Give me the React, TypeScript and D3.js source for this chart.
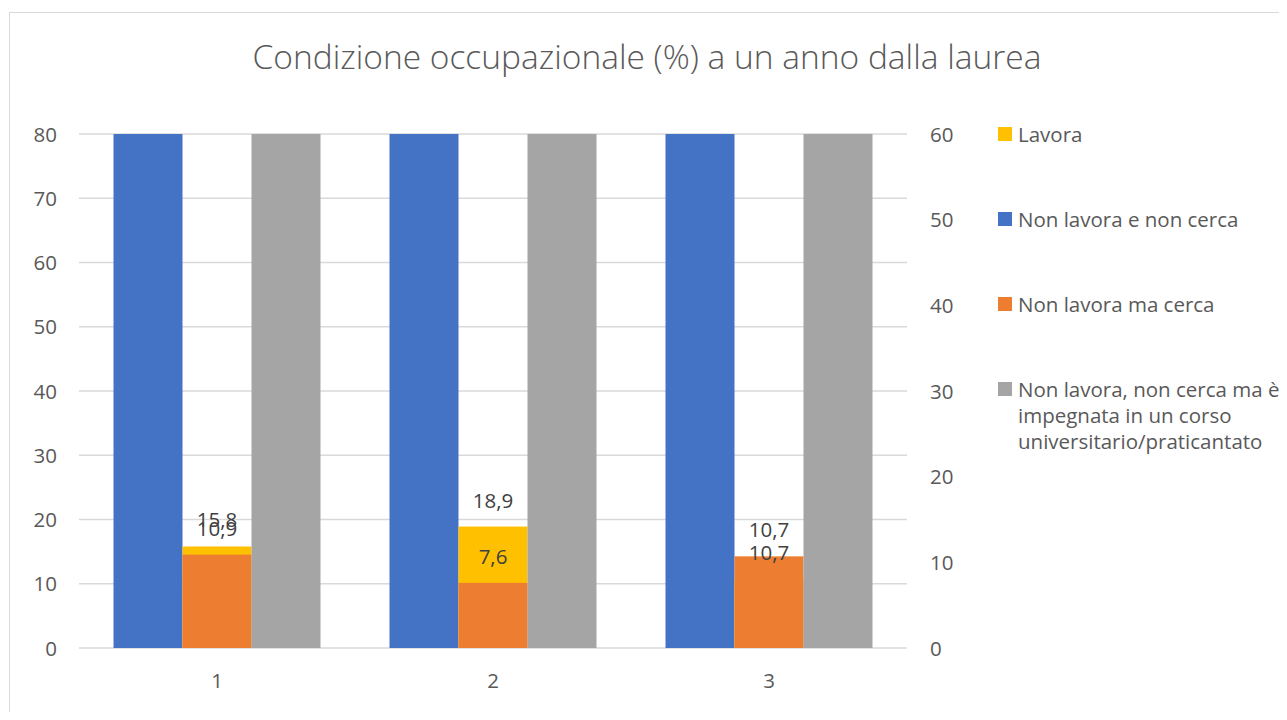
import React from "react";
import * as d3 from "d3";

const categories = ["1", "2", "3"];
const lavora = [15.8, 18.9, 10.7]; // primary axis
const nonLavoraCerca = [10.9, 7.6, 10.7]; // secondary axis
const nonLavoraNonCerca = [85, 85, 85]; // beyond primary axis max (clipped)
const impegnata = [85, 85, 85]; // beyond primary axis max (clipped)
const leftTicks = [0, 10, 20, 30, 40, 50, 60, 70, 80];
const rightTicks = [0, 10, 20, 30, 40, 50, 60];

const legendItems = [
  { lines: ["Lavora"], color: "#FFC000" },
  { lines: ["Non lavora e non cerca"], color: "#4472C4" },
  { lines: ["Non lavora ma cerca"], color: "#ED7D31" },
  { lines: ["Non lavora, non cerca ma è", "impegnata in un corso", "universitario/praticantato"], color: "#A5A5A5" },
];

const W = 1287;
const H = 720;
const plot = { left: 79, right: 907, top: 134, bottom: 648 };
const FONT = "'Open Sans', 'Segoe UI', sans-serif";
const TXT = "#595959";
const LBL = "#404040";
const FS = 20.5;

const fmt = (v: number) => v.toFixed(1).replace(".", ",");

export default function App() {
  const x = d3.scaleBand<string>().domain(categories).range([plot.left, plot.right]).paddingInner(0).paddingOuter(0);
  const inner = d3
    .scaleBand<number>()
    .domain([0, 1, 2])
    .range([0, x.bandwidth()])
    .paddingOuter(0.5)
    .paddingInner(0);
  const yL = d3.scaleLinear().domain([0, 80]).range([plot.bottom, plot.top]).clamp(true);
  const yR = d3.scaleLinear().domain([0, 60]).range([plot.bottom, plot.top]).clamp(true);
  const bw = inner.bandwidth();

  return (
    <svg width={W} height={H - 16} style={{ display: "block" }} fontFamily={FONT}>
      <rect x={1.5} y={4.5} width={W + 10} height={H + 10} fill="#fff" stroke="#D9D9D9" strokeWidth={1} />
      <text x={639} y={61} textAnchor="middle" fontSize={33.5} fill={TXT} fontWeight={300}>
        Condizione occupazionale (%) a un anno dalla laurea
      </text>
      <g transform="translate(-8,-8)">
        {leftTicks.map((t) => (
          <line key={"g" + t} x1={plot.left} x2={plot.right} y1={yL(t)} y2={yL(t)} stroke="#D9D9D9" strokeWidth={1.3} />
        ))}
        {leftTicks.map((t) => (
          <text key={"l" + t} x={57} y={yL(t) + 7.5} textAnchor="end" fontSize={FS} fill={TXT}>
            {t}
          </text>
        ))}
        {rightTicks.map((t) => (
          <text key={"r" + t} x={930} y={yR(t) + 7.5} textAnchor="start" fontSize={FS} fill={TXT}>
            {t}
          </text>
        ))}
        {categories.map((c, i) => {
          const x0 = x(c)!;
          return (
            <g key={c}>
              <rect x={x0 + inner(0)!} width={bw} y={yL(nonLavoraNonCerca[i])} height={plot.bottom - yL(nonLavoraNonCerca[i])} fill="#4472C4" />
              <rect x={x0 + inner(1)!} width={bw} y={yL(lavora[i])} height={plot.bottom - yL(lavora[i])} fill="#FFC000" />
              <rect x={x0 + inner(1)!} width={bw} y={yR(nonLavoraCerca[i])} height={plot.bottom - yR(nonLavoraCerca[i])} fill="#ED7D31" />
              <rect x={x0 + inner(2)!} width={bw} y={yL(impegnata[i])} height={plot.bottom - yL(impegnata[i])} fill="#A5A5A5" />
              <text x={x0 + inner(1)! + bw / 2} y={yL(lavora[i]) - 19} textAnchor="middle" fontSize={FS} fill={LBL}>
                {fmt(lavora[i])}
              </text>
              <text x={x0 + inner(1)! + bw / 2} y={yR(nonLavoraCerca[i]) - 19} textAnchor="middle" fontSize={FS} fill={LBL}>
                {fmt(nonLavoraCerca[i])}
              </text>
              <text x={x0 + x.bandwidth() / 2} y={688} textAnchor="middle" fontSize={FS} fill={TXT}>
                {c}
              </text>
            </g>
          );
        })}
        {legendItems.map((it, i) => {
          const cy = 134 + i * 85;
          return (
            <g key={i}>
              <rect x={998} y={cy - 7} width={14} height={14} fill={it.color} />
              {it.lines.map((ln, j) => (
                <text key={j} x={1018} y={cy + 7.5 + j * 26} fontSize={FS} fill={TXT}>
                  {ln}
                </text>
              ))}
            </g>
          );
        })}
      </g>
    </svg>
  );
}
